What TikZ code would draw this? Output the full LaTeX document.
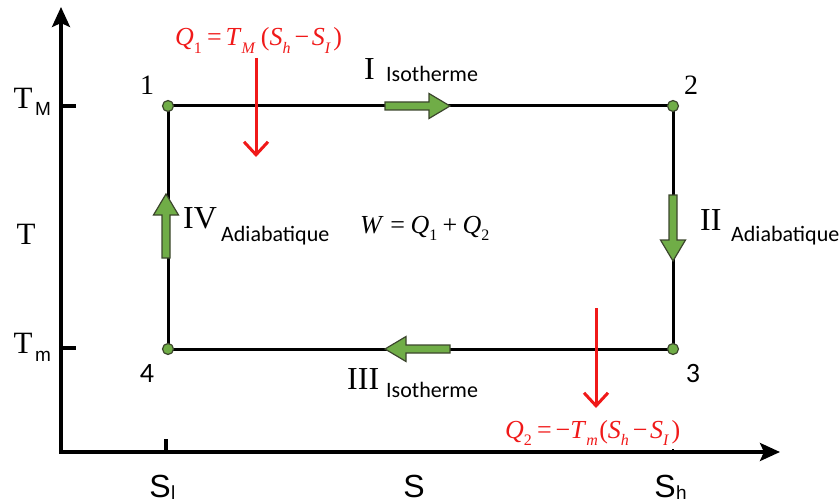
\documentclass[tikz,border=0pt]{standalone}
\usepackage{fontspec}
\setmainfont{Liberation Serif}
\newfontfamily\carl{Carlito}
\newfontfamily\arl{Liberation Sans}
\usetikzlibrary{arrows.meta}
\definecolor{gfill}{RGB}{112,173,71}
\definecolor{gline}{RGB}{60,70,45}
\definecolor{qred}{RGB}{240,25,25}
\newcommand\lsub[1]{\raisebox{-0.3em}{\fontsize{16}{16}\selectfont #1}}
\newcommand\garrow[3]{%
  \draw[garrowstyle, shift={#1}, rotate=#2] (0,-4) -- ({#3-21},-4) -- ({#3-21},-12.5) -- (#3,0) -- ({#3-21},12.5) -- ({#3-21},4) -- (0,4) -- cycle;}
\tikzset{
  axis/.style={line width=3.5pt, -{Stealth[length=20pt,width=18pt,inset=4pt]}},
  cyc/.style={line width=3pt},
  vertex/.style={circle, fill=gfill, draw=gline, line width=1.2pt, minimum size=11pt, inner sep=0pt},
  garrowstyle/.style={fill=gfill, draw=gline, line width=1.2pt, line join=miter},
  qarrow/.style={qred, line width=3pt, -{Straight Barb[length=13pt,width=24pt,line width=3pt]}},
  roman/.style={font=\fontsize{32}{32}\selectfont, inner sep=0pt},
  kind/.style={font=\carl\fontsize{22}{22}\selectfont, inner sep=0pt},
  num/.style={font=\fontsize{28}{28}\selectfont, inner sep=0pt},
  formula/.style={qred, font=\fontsize{26}{26}\selectfont, inner sep=0pt},
  tlab/.style={font=\fontsize{31}{31}\selectfont, inner sep=0pt},
  slab/.style={font=\arl\fontsize{32}{32}\selectfont, inner sep=0pt},
  ssub/.style={font=\arl\fontsize{19}{19}\selectfont, inner sep=0pt},
}
\begin{document}
\begin{tikzpicture}[x=1pt, y=-1pt]
\useasboundingbox (0,0) rectangle (839,503);
% axes
\coordinate (O) at (61,452);
\coordinate (ytop) at (61,7);
\coordinate (xend) at (780,452);
\draw[axis] (61,453.75) -- (ytop);
\draw[axis] (59.25,452) -- (xend);
% ticks
\coordinate (tM) at (61,106);
\coordinate (tm) at (61,348);
\draw[line width=3.5pt] (tM) -- +(15,0);
\draw[line width=3.5pt] (tm) -- +(15,0);
\draw[line width=3.5pt] (166,452) -- +(0,-13);
\draw[line width=2pt] (673,452) -- +(0,-3);
% axis labels
\node[tlab, anchor=base] (TM) at (23,109) {T};
\node[ssub, anchor=base west] (TMs) at (35,116) {M};
\node[tlab, anchor=base] (T) at (26,244) {T};
\node[tlab, anchor=base] (Tm) at (23,353) {T};
\node[ssub, anchor=base west] (Tms) at (35,361) {m};
\node[slab, anchor=base] (Sl) at (160,497) {S};
\node[ssub, anchor=base west] (Sls) at (171,499) {l};
\node[slab, anchor=base] (S) at (414,497) {S};
\node[slab, anchor=base] (Sh) at (665,497) {S};
\node[ssub, anchor=base west] (Shs) at (676,499) {h};
% cycle
\coordinate (c1) at (168,106);
\coordinate (c2) at (673,106);
\coordinate (c3) at (673,349);
\coordinate (c4) at (168,349);
\draw[cyc] (c1) -- (c2) -- (c3) -- (c4) -- cycle;
\node[vertex] (p1) at (c1) {};
\node[vertex] (p2) at (c2) {};
\node[vertex] (p3) at (c3) {};
\node[vertex] (p4) at (c4) {};
% green arrows
\garrow{(385,106)}{0}{65}
\garrow{(673,195)}{-90}{66}
\garrow{(450,349)}{180}{65}
\garrow{(166,258)}{90}{64}
% vertex numbers
\node[num, anchor=base] (n1) at (147,95) {1};
\node[num, anchor=base] (n2) at (691,95) {2};
\node[num, anchor=base, font=\carl\fontsize{28}{28}\selectfont] (n3) at (693,382) {3};
\node[num, anchor=base, font=\carl\fontsize{28}{28}\selectfont] (n4) at (147,382) {4};
% process labels
\node[roman, anchor=base west] (rI) at (364,80) {I};
\node[kind, anchor=base west] (iso1) at (386,82) {Isotherme};
\node[roman, anchor=base west] (rII) at (700,230) {II};
\node[kind, anchor=base west] (ad2) at (731,241) {Adiabatique};
\node[roman, anchor=base west] (rIII) at (347,389) {III};
\node[kind, anchor=base west] (iso3) at (386,397) {Isotherme};
\node[roman, anchor=base west] (rIV) at (183,228) {IV};
\node[kind, anchor=base west] (ad4) at (221,241) {Adiabatique};
% work
\node[font=\fontsize{26}{26}\selectfont, inner sep=0pt, anchor=base west] (W) at (360,233) {\textit{W}\hspace{0.25em}=\hspace{0.22em}\textit{Q}\lsub{1}\hspace{0.2em}+\hspace{0.2em}\textit{Q}\lsub{2}};
% heats
\node[formula, anchor=base west] (Q1) at (175,46) {\textit{Q}\lsub{1}\hspace{0.2em}=\hspace{0.15em}\textit{T}\lsub{\textit{M}}\hspace{0.2em}(\textit{S}\lsub{\textit{h}}\hspace{0.15em}−\hspace{0.1em}\textit{S}\lsub{\textit{I}}\hspace{0.1em})};
\node[formula, anchor=base west] (Q2) at (505,438) {\textit{Q}\lsub{2}\hspace{0.2em}=\hspace{0.15em}−\textit{T}\lsub{\textit{m}}\hspace{0.05em}(\textit{S}\lsub{\textit{h}}\hspace{0.15em}−\hspace{0.1em}\textit{S}\lsub{\textit{I}}\hspace{0.1em})};
\coordinate (q1s) at (256,58);
\coordinate (q1e) at (256,157);
\coordinate (q2s) at (596,308);
\coordinate (q2e) at (596,408);
\draw[qarrow] (q1s) -- (q1e);
\draw[qarrow] (q2s) -- (q2e);
\end{tikzpicture}
\end{document}
